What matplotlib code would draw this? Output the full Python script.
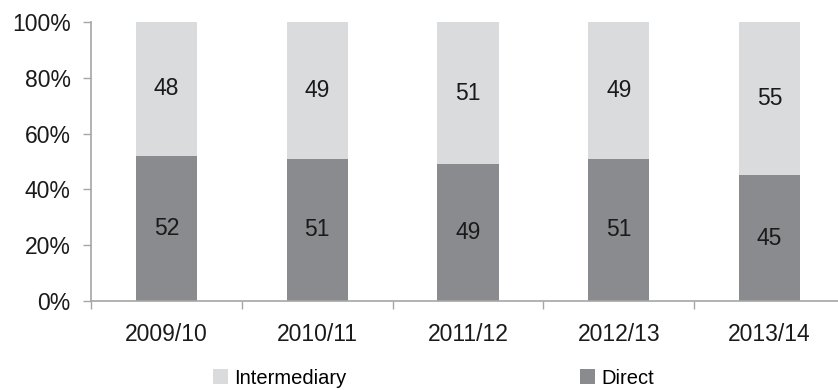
import matplotlib
matplotlib.use("Agg")
import matplotlib.pyplot as plt
import numpy as np
from matplotlib.ticker import PercentFormatter

# Share of business by channel, per financial year (percent)
years = ["2009/10", "2010/11", "2011/12", "2012/13", "2013/14"]
direct = [52, 51, 49, 51, 45]
intermediary = [48, 49, 51, 49, 55]

DIRECT_COLOR = "#8a8b8e"
INTER_COLOR = "#dadbdc"
AXIS_COLOR = "#a6a6a6"
TEXT_COLOR = "#1a1a1a"
FS = 16.5

plt.rcParams["font.family"] = ["Liberation Sans", "DejaVu Sans"]

W, H = 838, 390
fig = plt.figure(figsize=(W / 100, H / 100), dpi=100)
ax = fig.add_axes([91 / W, 1 - 301 / H, 754 / W, 279 / H])

x = np.arange(len(years))
width = 0.405
b_direct = ax.bar(x, direct, width, color=DIRECT_COLOR, label="Direct", zorder=2)
b_inter = ax.bar(x, intermediary, width, bottom=direct, color=INTER_COLOR,
                 label="Intermediary", zorder=2)

for rect, v in zip(b_direct, direct):
    ax.text(rect.get_x() + rect.get_width() / 2, v / 2, str(v),
            ha="center", va="center", fontsize=FS, color=TEXT_COLOR)
for rect, d, v in zip(b_inter, direct, intermediary):
    ax.text(rect.get_x() + rect.get_width() / 2, d + v / 2, str(v),
            ha="center", va="center", fontsize=FS, color=TEXT_COLOR)

ax.set_xlim(-0.5, len(years) - 0.5)
ax.set_ylim(0, 100)
ax.set_yticks(range(0, 101, 20))
ax.yaxis.set_major_formatter(PercentFormatter(decimals=0))

# category labels centred under the bars, tick marks between them
ax.set_xticks(x)
ax.set_xticklabels(years)
ax.set_xticks(np.arange(len(years) + 1) - 0.5, minor=True)
ax.tick_params(axis="x", which="major", length=0, pad=16, labelsize=FS,
               labelcolor=TEXT_COLOR)
ax.tick_params(axis="x", which="minor", length=6, width=1, color=AXIS_COLOR,
               direction="out")
ax.tick_params(axis="y", length=6, width=1, color=AXIS_COLOR, pad=8.5,
               labelsize=FS, labelcolor=TEXT_COLOR)

for side in ("top", "right"):
    ax.spines[side].set_visible(False)
for side in ("left", "bottom"):
    ax.spines[side].set_color(AXIS_COLOR)
    ax.spines[side].set_linewidth(1.2)

fig.legend(handles=[b_inter, b_direct], labels=["Intermediary", "Direct"],
           loc="center left", bbox_to_anchor=(213 / W, 1 - 378 / H),
           ncol=2, frameon=False, fontsize=14.5, handlelength=0.75,
           handleheight=0.75, handletextpad=0.3, columnspacing=11.6,
           borderaxespad=0, borderpad=0)

fig.savefig("out.png", dpi=100)
